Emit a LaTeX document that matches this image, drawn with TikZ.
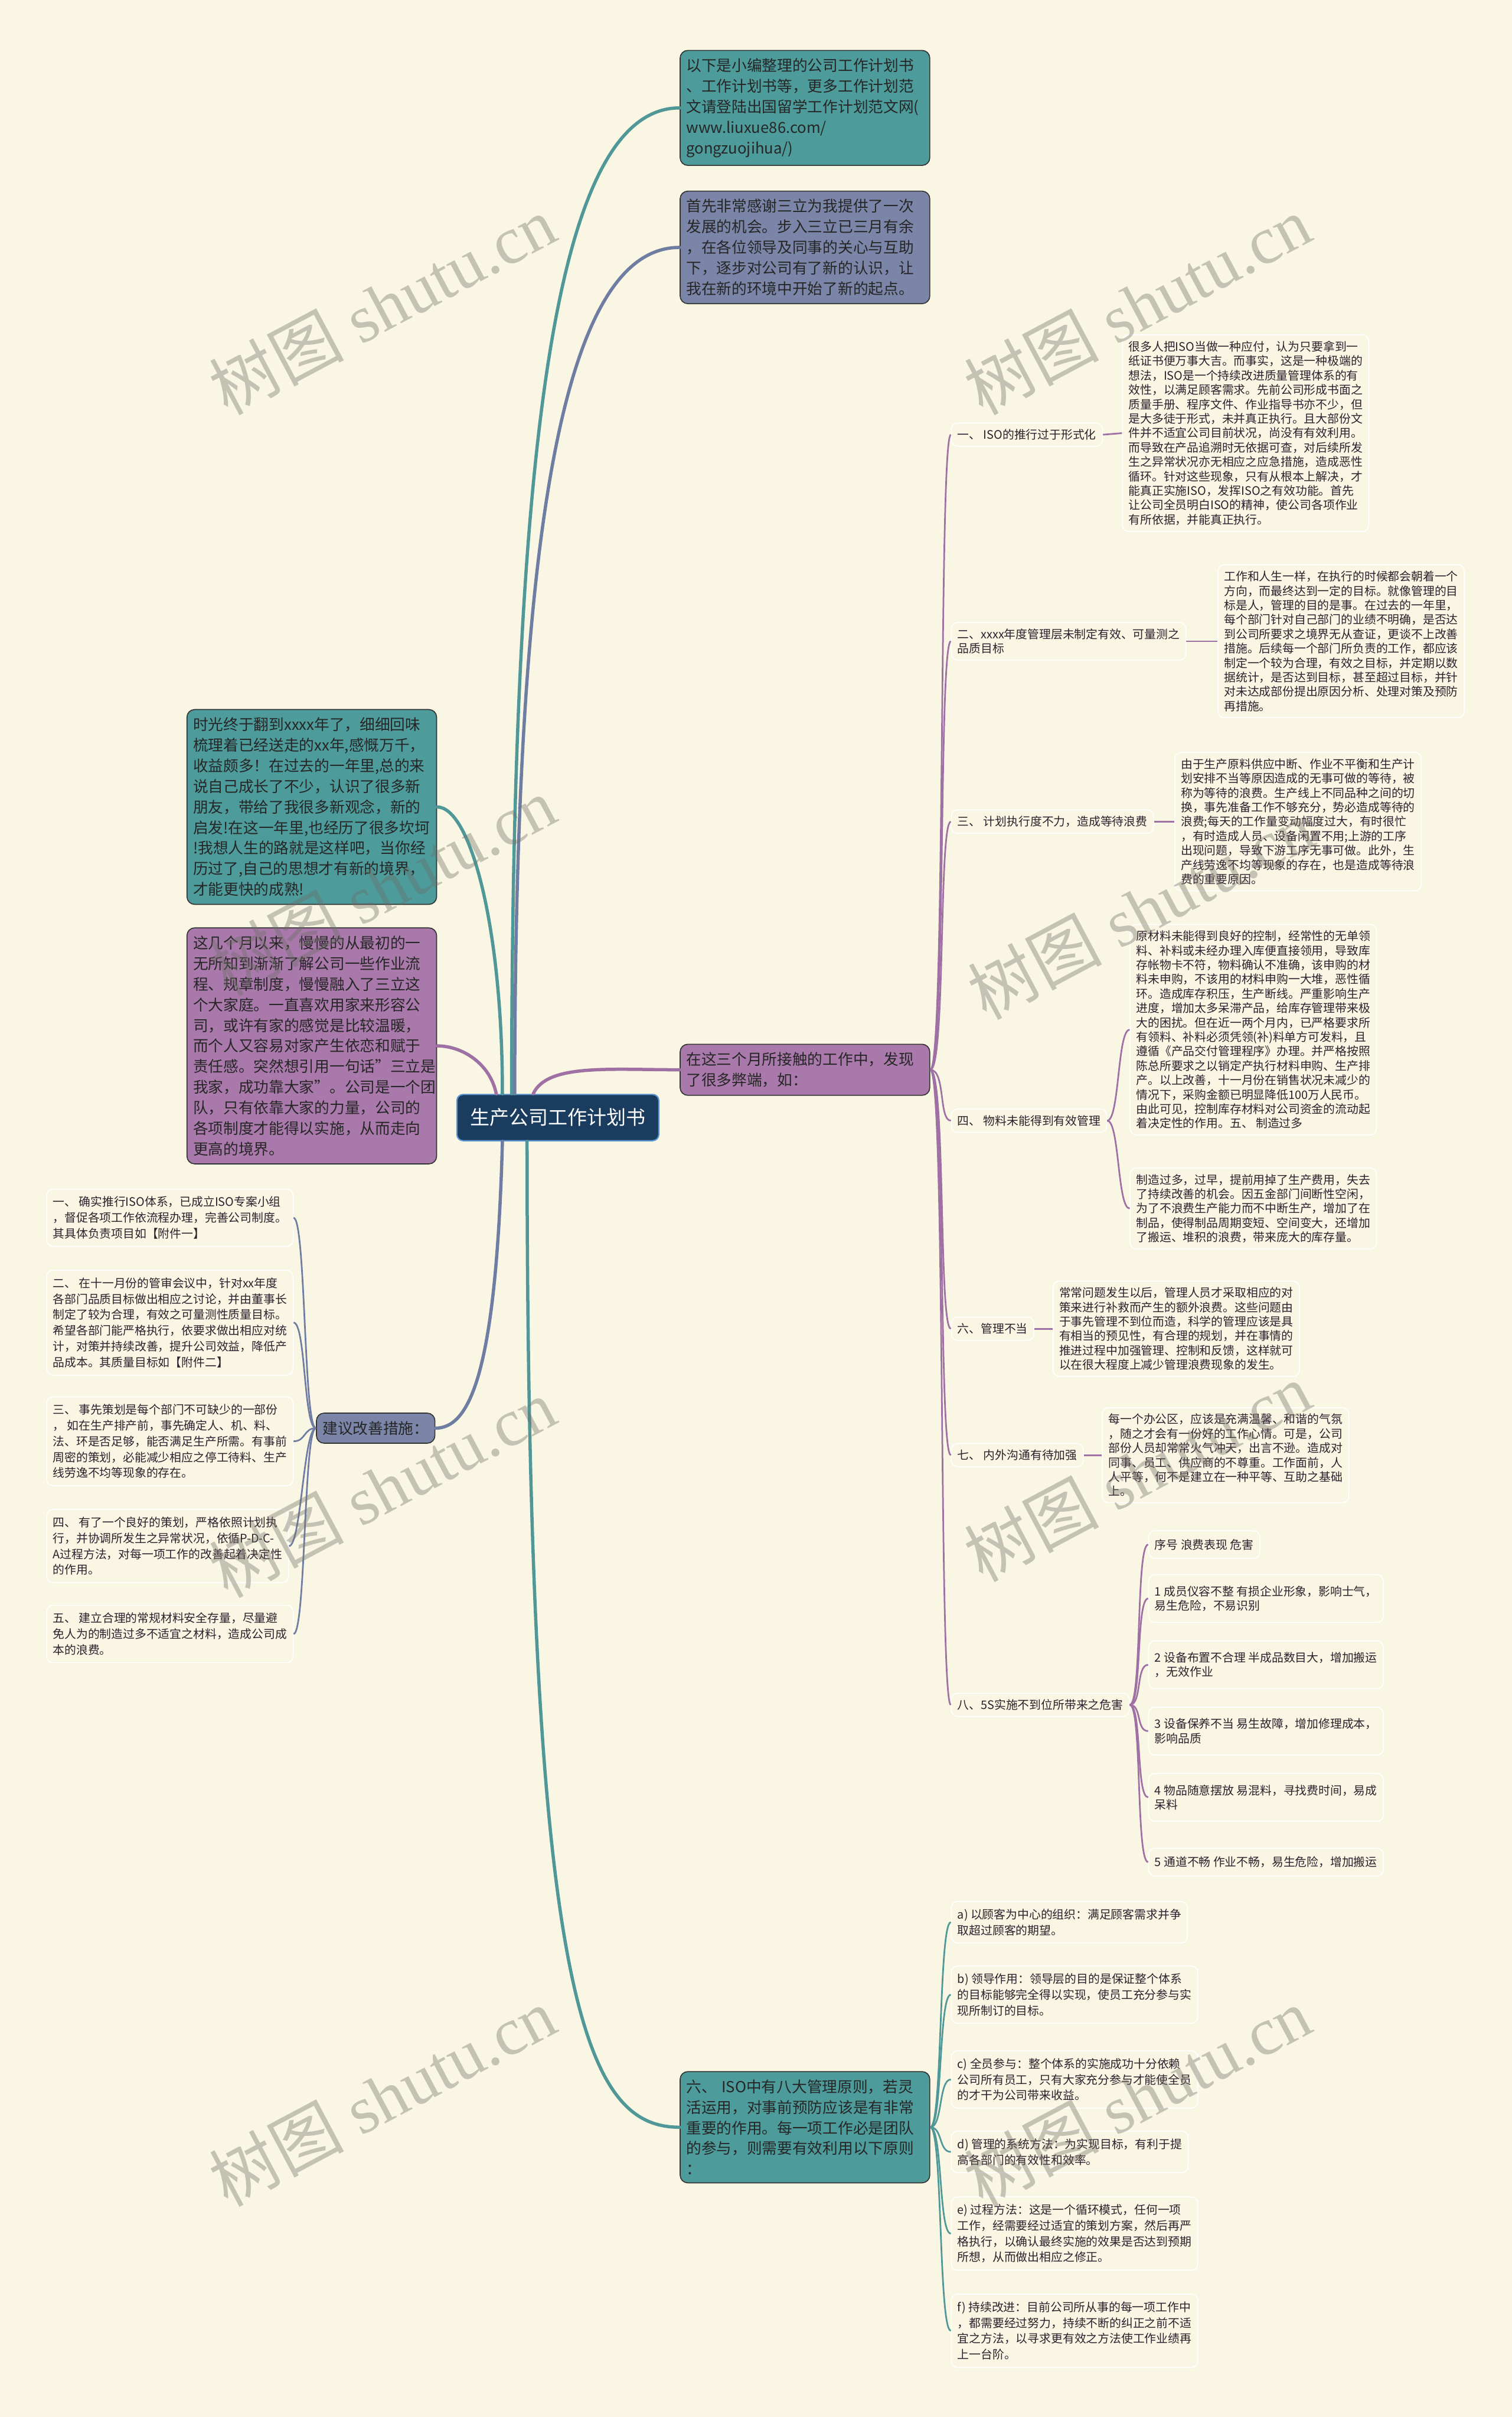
\documentclass[tikz,border=0pt]{standalone}
\usepackage{fontspec}
\setmainfont{Noto Sans CJK SC}
\newfontfamily\markfont{Liberation Serif}
\usetikzlibrary{positioning}

\definecolor{paper}{RGB}{250,246,228}
\definecolor{tealbox}{RGB}{77,155,155}
\definecolor{slatebox}{RGB}{122,133,168}
\definecolor{plumbox}{RGB}{168,121,170}
\definecolor{navybox}{RGB}{26,60,94}
\definecolor{navyedge}{RGB}{90,150,210}
\definecolor{tealline}{RGB}{80,152,152}
\definecolor{plumline}{RGB}{158,112,163}
\definecolor{slateline}{RGB}{112,125,162}
\definecolor{inktext}{RGB}{45,32,45}
\definecolor{markgray}{RGB}{110,110,100}

\begin{document}
\begin{tikzpicture}[x=0.5mm, y=-0.5mm,
    rootbox/.style={draw=navyedge, line width=1.2pt, fill=navybox, rounded corners=2mm, text=white,
        font=\fontsize{18}{22}\selectfont, minimum height=15mm, minimum width=65.5mm},
    panel/.style={draw=black!80, line width=0.9pt, fill=#1, rounded corners=2.5mm, text=black!85,
        font=\fontsize{14}{19}\selectfont, align=left, inner xsep=2mm, inner ysep=2.6mm, anchor=west},
    slab/.style={panel=#1, text width=77mm},
    leafbox/.style={draw=white, line width=0.9pt, fill=paper, rounded corners=2mm, text=inktext,
        font=\fontsize{10.8}{13.3}\selectfont, align=left, inner xsep=2mm, inner ysep=2mm, anchor=west},
    sideleaf/.style={leafbox, font=\fontsize{10.8}{14.6}\selectfont, inner ysep=2.4mm},
    trunk/.style={draw=#1, line width=3pt, line cap=round},
    twig/.style={draw=#1, line width=1.5pt},
    stamp/.style={rotate=28, text=markgray, text opacity=0.38, font=\fontsize{62}{66}\selectfont}]

    % Page
    \fill[paper] (0,0) rectangle (981,1568);
    \useasboundingbox (0,0) rectangle (981,1568);

    % Centre and main boxes
    \node[rootbox] (root) at (362,725) {生产公司工作计划书};
    \node[slab=tealbox] (intro) at (441,70) {以下是小编整理的公司工作计划书\\、工作计划书等，更多工作计划范\\文请登陆出国留学工作计划范文网(\\www.liuxue86.com/\\gongzuojihua/)};
    \node[slab=slatebox] (thanks) at (441,160.5) {首先非常感谢三立为我提供了一次\\发展的机会。步入三立已三月有余\\，在各位领导及同事的关心与互助\\下，逐步对公司有了新的认识，让\\我在新的环境中开始了新的起点。};
    \node[slab=tealbox] (review) at (121,523.5) {时光终于翻到xxxx年了，细细回味\\梳理着已经送走的xx年,感慨万千，\\收益颇多！在过去的一年里,总的来\\说自己成长了不少，认识了很多新\\朋友，带给了我很多新观念，新的\\启发!在这一年里,也经历了很多坎坷\\!我想人生的路就是这样吧，当你经\\历过了,自己的思想才有新的境界，\\才能更快的成熟!};
    \node[slab=plumbox] (family) at (121,678.5) {这几个月以来，慢慢的从最初的一\\无所知到渐渐了解公司一些作业流\\程、规章制度，慢慢融入了三立这\\个大家庭。一直喜欢用家来形容公\\司，或许有家的感觉是比较温暖，\\而个人又容易对家产生依恋和赋于\\责任感。突然想引用一句话"三立是\\我家，成功靠大家"。公司是一个团\\队，只有依靠大家的力量，公司的\\各项制度才能得以实施，从而走向\\更高的境界。};
    \node[slab=plumbox] (issues) at (441,694) {在这三个月所接触的工作中，发现\\了很多弊端，如：};
    \node[panel=slatebox] (advice) at (205,926.5) {建议改善措施：};
    \node[slab=tealbox] (iso8) at (441,1380) {六、 ISO中有八大管理原则，若灵\\活运用，对事前预防应该是有非常\\重要的作用。每一项工作必是团队\\的参与，则需要有效利用以下原则\\：};

    % Problems found
    \node[leafbox] (sec1) at (617,282) {一、 ISO的推行过于形式化};
    \node[leafbox] (sec2) at (617,416) {二、xxxx年度管理层未制定有效、可量测之\\品质目标};
    \node[leafbox] (sec3) at (617,533) {三、 计划执行度不力，造成等待浪费};
    \node[leafbox] (sec4) at (617,727) {四、 物料未能得到有效管理};
    \node[leafbox] (sec6) at (617,862) {六、管理不当};
    \node[leafbox] (sec7) at (617,944) {七、 内外沟通有待加强};
    \node[leafbox] (sec8) at (617,1106) {八、5S实施不到位所带来之危害};

    \node[leafbox] (sec1txt) at (728,281) {很多人把ISO当做一种应付，认为只要拿到一\\纸证书便万事大吉。而事实，这是一种极端的\\想法，ISO是一个持续改进质量管理体系的有\\效性，以满足顾客需求。先前公司形成书面之\\质量手册、程序文件、作业指导书亦不少，但\\是大多徒于形式，未并真正执行。且大部份文\\件并不适宜公司目前状况，尚没有有效利用。\\而导致在产品追溯时无依据可查，对后续所发\\生之异常状况亦无相应之应急措施，造成恶性\\循环。针对这些现象，只有从根本上解决，才\\能真正实施ISO，发挥ISO之有效功能。首先\\让公司全员明白ISO的精神，使公司各项作业\\有所依据，并能真正执行。};
    \node[leafbox] (sec2txt) at (790,416) {工作和人生一样，在执行的时候都会朝着一个\\方向，而最终达到一定的目标。就像管理的目\\标是人，管理的目的是事。在过去的一年里，\\每个部门针对自己部门的业绩不明确，是否达\\到公司所要求之境界无从查证，更谈不上改善\\措施。后续每一个部门所负责的工作，都应该\\制定一个较为合理，有效之目标，并定期以数\\据统计，是否达到目标，甚至超过目标，并针\\对未达成部份提出原因分析、处理对策及预防\\再措施。};
    \node[leafbox] (sec3txt) at (762,533) {由于生产原料供应中断、作业不平衡和生产计\\划安排不当等原因造成的无事可做的等待，被\\称为等待的浪费。生产线上不同品种之间的切\\换，事先准备工作不够充分，势必造成等待的\\浪费;每天的工作量变动幅度过大，有时很忙\\，有时造成人员、设备闲置不用;上游的工序\\出现问题，导致下游工序无事可做。此外，生\\产线劳逸不均等现象的存在，也是造成等待浪\\费的重要原因。};
    \node[leafbox] (sec4txtA) at (733,668) {原材料未能得到良好的控制，经常性的无单领\\料、补料或未经办理入库便直接领用，导致库\\存帐物卡不符，物料确认不准确，该申购的材\\料未申购，不该用的材料申购一大堆，恶性循\\环。造成库存积压，生产断线。严重影响生产\\进度，增加太多呆滞产品，给库存管理带来极\\大的困扰。但在近一两个月内，已严格要求所\\有领料、补料必须凭领(补)料单方可发料，且\\遵循《产品交付管理程序》办理。并严格按照\\陈总所要求之以销定产执行材料申购、生产排\\产。以上改善，十一月份在销售状况未减少的\\情况下，采购金额已明显降低100万人民币。\\由此可见，控制库存材料对公司资金的流动起\\着决定性的作用。五、 制造过多};
    \node[leafbox] (sec4txtB) at (733,784) {制造过多，过早，提前用掉了生产费用，失去\\了持续改善的机会。因五金部门间断性空闲，\\为了不浪费生产能力而不中断生产，增加了在\\制品，使得制品周期变短、空间变大，还增加\\了搬运、堆积的浪费，带来庞大的库存量。};
    \node[leafbox] (sec6txt) at (683,862) {常常问题发生以后，管理人员才采取相应的对\\策来进行补救而产生的额外浪费。这些问题由\\于事先管理不到位而造，科学的管理应该是具\\有相当的预见性，有合理的规划，并在事情的\\推进过程中加强管理、控制和反馈，这样就可\\以在很大程度上减少管理浪费现象的发生。};
    \node[leafbox] (sec7txt) at (715,944) {每一个办公区，应该是充满温馨、和谐的气氛\\，随之才会有一份好的工作心情。可是，公司\\部份人员却常常火气冲天，出言不逊。造成对\\同事、员工、供应商的不尊重。工作面前，人\\人平等，何不是建立在一种平等、互助之基础\\上。};

    \node[leafbox, minimum height=9mm] (waste0) at (745,1002) {序号 浪费表现 危害};
    \node[leafbox, minimum height=15.5mm] (waste1) at (745,1037) {1 成员仪容不整 有损企业形象，影响士气，\\易生危险，不易识别};
    \node[leafbox, minimum height=15.5mm] (waste2) at (745,1080) {2 设备布置不合理 半成品数目大，增加搬运\\，无效作业};
    \node[leafbox, minimum height=15.5mm] (waste3) at (745,1123) {3 设备保养不当 易生故障，增加修理成本，\\影响品质};
    \node[leafbox, minimum height=15.5mm] (waste4) at (745,1166) {4 物品随意摆放 易混料，寻找费时间，易成\\呆料};
    \node[leafbox, minimum height=9mm] (waste5) at (745,1208) {5 通道不畅 作业不畅，易生危险，增加搬运};

    % Suggested measures
    \node[sideleaf] (adv1) at (30,790) {一、 确实推行ISO体系，已成立ISO专案小组\\，督促各项工作依流程办理，完善公司制度。\\其具体负责项目如【附件一】};
    \node[sideleaf] (adv2) at (30,858) {二、 在十一月份的管审会议中，针对xx年度\\各部门品质目标做出相应之讨论，并由董事长\\制定了较为合理，有效之可量测性质量目标。\\希望各部门能严格执行，依要求做出相应对统\\计，对策并持续改善，提升公司效益，降低产\\品成本。其质量目标如【附件二】};
    \node[sideleaf] (adv3) at (30,935) {三、 事先策划是每个部门不可缺少的一部份\\， 如在生产排产前，事先确定人、机、料、\\法、环是否足够，能否满足生产所需。有事前\\周密的策划，必能减少相应之停工待料、生产\\线劳逸不均等现象的存在。};
    \node[sideleaf] (adv4) at (30,1003) {四、 有了一个良好的策划，严格依照计划执\\行，并协调所发生之异常状况，依循P-D-C-\\A过程方法，对每一项工作的改善起着决定性\\的作用。};
    \node[sideleaf] (adv5) at (30,1060) {五、 建立合理的常规材料安全存量，尽量避\\免人为的制造过多不适宜之材料，造成公司成\\本的浪费。};

    % Eight principles
    \node[sideleaf] (prinA) at (617,1247) {a) 以顾客为中心的组织：满足顾客需求并争\\取超过顾客的期望。};
    \node[sideleaf] (prinB) at (617,1294) {b) 领导作用：领导层的目的是保证整个体系\\的目标能够完全得以实现，使员工充分参与实\\现所制订的目标。};
    \node[sideleaf] (prinC) at (617,1349) {c) 全员参与：整个体系的实施成功十分依赖\\公司所有员工，只有大家充分参与才能使全员\\的才干为公司带来收益。};
    \node[sideleaf] (prinD) at (617,1396) {d) 管理的系统方法：为实现目标，有利于提\\高各部门的有效性和效率。};
    \node[sideleaf] (prinE) at (617,1449) {e) 过程方法：这是一个循环模式，任何一项\\工作，经需要经过适宜的策划方案，然后再严\\格执行，以确认最终实施的效果是否达到预期\\所想，从而做出相应之修正。};
    \node[sideleaf] (prinF) at (617,1512) {f) 持续改进：目前公司所从事的每一项工作中\\，都需要经过努力，持续不断的纠正之前不适\\宜之方法，以寻求更有效之方法使工作业绩再\\上一台阶。};

    % Draw edges
    \draw[trunk=tealline] ([xshift=-15mm]root.north) .. controls (332,260) and (365,70) .. (intro.west);
    \draw[trunk=slateline] ([xshift=-14mm]root.north) .. controls (334,320) and (370,160.5) .. (thanks.west);
    \draw[trunk=tealline] ([xshift=-18mm]root.north) .. controls (326,600) and (305,523.5) .. (review.east);
    \draw[trunk=plumline] ([xshift=-20mm]root.north) .. controls (318,690) and (300,678.5) .. (family.east);
    \draw[trunk=plumline] ([xshift=-8mm]root.north) .. controls (355,690) and (395,694) .. (issues.west);
    \draw[trunk=slateline] ([xshift=-18mm]root.south) .. controls (322,890) and (305,926.5) .. (advice.east);
    \draw[trunk=tealline] ([xshift=-10mm]root.south) .. controls (342,1300) and (380,1380) .. (iso8.west);

    \foreach \s in {sec1,sec2,sec3,sec4,sec6,sec7,sec8}
        \draw[twig=plumline] (issues.east) .. controls +(5mm,0) and +(-4mm,0) .. (\s.west);
    \foreach \s in {sec1,sec2,sec3,sec6,sec7}
        \draw[twig=plumline] (\s.east) -- (\s txt.west);
    \foreach \n in {sec4txtA,sec4txtB}
        \draw[twig=plumline] (sec4.east) .. controls +(4mm,0) and +(-4mm,0) .. (\n.west);
    \foreach \n in {waste0,waste1,waste2,waste3,waste4,waste5}
        \draw[twig=plumline] (sec8.east) .. controls +(4mm,0) and +(-4mm,0) .. (\n.west);
    \foreach \n in {adv1,adv2,adv3,adv4,adv5}
        \draw[twig=slateline] (advice.west) .. controls +(-4mm,0) and +(4mm,0) .. (\n.east);
    \foreach \n in {prinA,prinB,prinC,prinD,prinE,prinF}
        \draw[twig=tealline] (iso8.east) .. controls +(4mm,0) and +(-4mm,0) .. (\n.west);

    % Watermarks
    \foreach \wx/\wy in {248/198, 738/198, 248/575, 740/590, 248/965, 738/955, 248/1360, 738/1360}
        \node[stamp] (mark-\wx-\wy) at (\wx,\wy) {树图{\markfont\ shutu.cn}};
\end{tikzpicture}
\end{document}
